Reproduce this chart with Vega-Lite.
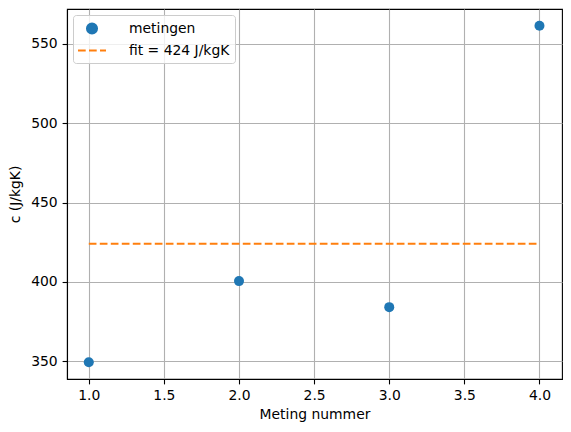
{
  "$schema": "https://vega.github.io/schema/vega-lite/v6.json",
  "width": 495,
  "height": 370,
  "autosize": {"type": "none"},
  "padding": {"left": 67, "top": 9, "right": 9, "bottom": 53},
  "background": "white",
  "config": {
    "font": "DejaVu Sans",
    "view": {"stroke": "black", "strokeWidth": 1.1},
    "axis": {
      "labelFont": "DejaVu Sans",
      "titleFont": "DejaVu Sans",
      "labelFontSize": 13.9,
      "titleFontSize": 13.9,
      "titleFontWeight": "normal",
      "labelColor": "black",
      "titleColor": "black",
      "domainColor": "black",
      "domainWidth": 1.1,
      "tickColor": "black",
      "tickWidth": 1.1,
      "tickSize": 4.9,
      "labelPadding": 4.9,
      "grid": true,
      "gridColor": "#b0b0b0",
      "gridWidth": 1.1
    }
  },
  "data": {
    "values": [
      {"meting": 1, "c": 349.4, "series": "metingen"},
      {"meting": 2, "c": 400.5, "series": "metingen"},
      {"meting": 3, "c": 384.1, "series": "metingen"},
      {"meting": 4, "c": 561.4, "series": "metingen"},
      {"meting": 1, "c": 424, "series": "fit = 424 J/kgK"},
      {"meting": 4, "c": 424, "series": "fit = 424 J/kgK"}
    ]
  },
  "encoding": {
    "x": {
      "field": "meting",
      "type": "quantitative",
      "title": "Meting nummer",
      "scale": {"domain": [0.855, 4.15], "nice": false, "zero": false},
      "axis": {"values": [1, 1.5, 2, 2.5, 3, 3.5, 4], "format": ".1f", "titlePadding": 5}
    },
    "y": {
      "field": "c",
      "type": "quantitative",
      "title": "c (J/kgK)",
      "scale": {"domain": [338.8, 572.0], "nice": false, "zero": false},
      "axis": {"values": [350, 400, 450, 500, 550], "titlePadding": 8}
    },
    "color": {
      "field": "series",
      "type": "nominal",
      "scale": {"domain": ["metingen", "fit = 424 J/kgK"], "range": ["#1f77b4", "#ff7f0e"]},
      "legend": {
        "title": null,
        "orient": "top-left",
        "offset": 6,
        "padding": 5,
        "fillColor": "rgba(255,255,255,0.8)",
        "strokeColor": "#cccccc",
        "cornerRadius": 3,
        "labelFont": "DejaVu Sans",
        "labelFontSize": 13.9,
        "labelColor": "black",
        "labelOffset": 34,
        "rowPadding": 4,
        "symbolSize": 196,
        "symbolType": "stroke",
        "encode": {
          "symbols": {
            "update": {
              "x": {"value": 14},
              "shape": {"signal": "datum.value == 'metingen' ? 'circle' : 'M-2,0L2,0'"},
              "size": {"signal": "datum.value == 'metingen' ? 100 : 196"},
              "fill": {"signal": "datum.value == 'metingen' ? '#1f77b4' : 'transparent'"},
              "stroke": {"signal": "datum.value == 'metingen' ? 'transparent' : '#ff7f0e'"},
              "strokeWidth": {"value": 2.08},
              "strokeDash": {"signal": "datum.value == 'metingen' ? [] : [7.7, 3.3]"},
              "opacity": {"value": 1}
            }
          }
        }
      }
    }
  },
  "layer": [
    {
      "transform": [{"filter": "datum.series == 'fit = 424 J/kgK'"}],
      "mark": {"type": "line", "strokeWidth": 2.08, "strokeDash": [7.7, 3.3]}
    },
    {
      "transform": [{"filter": "datum.series == 'metingen'"}],
      "mark": {"type": "point", "filled": true, "opacity": 1, "size": 100}
    }
  ]
}
